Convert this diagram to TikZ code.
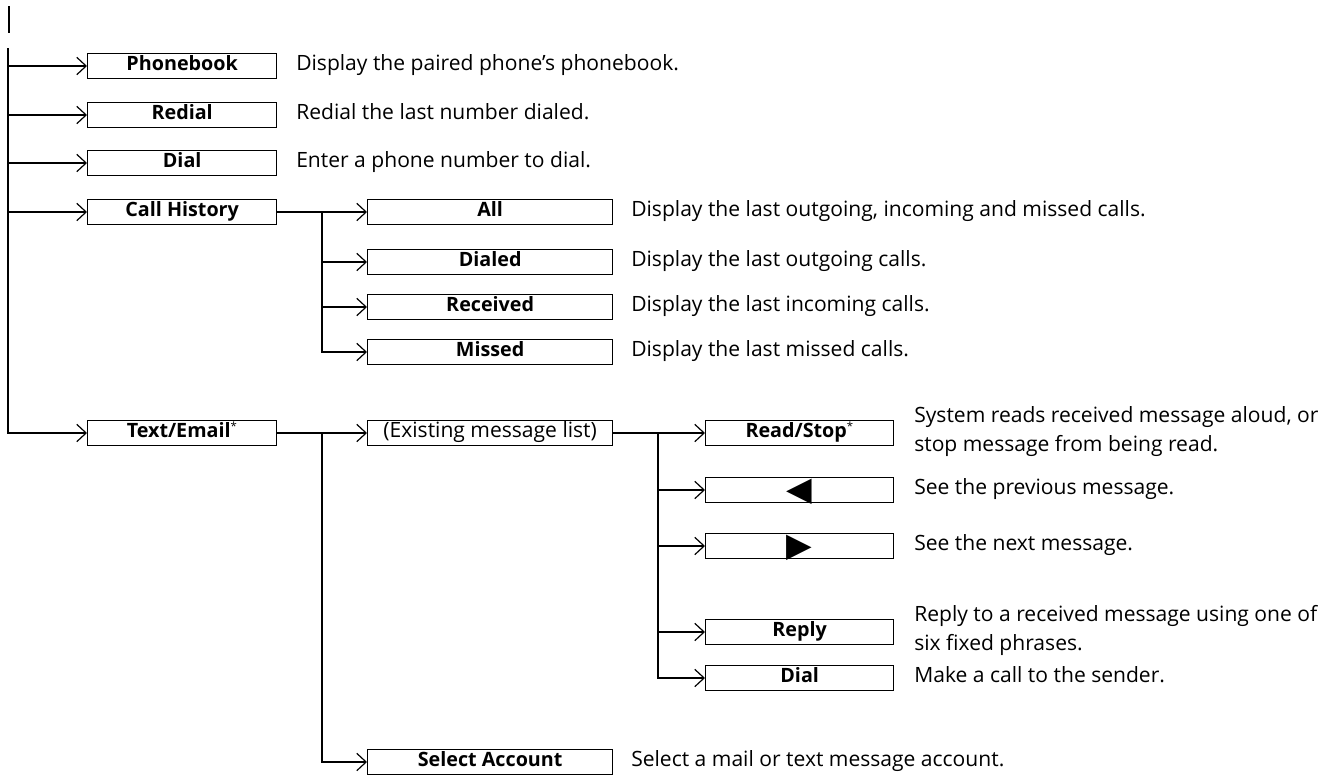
\documentclass[tikz,border=0pt]{standalone}
\usepackage{fontspec}
\setmainfont{Open Sans}
\newfontfamily\symfont{DejaVu Sans}
\usetikzlibrary{arrows.meta}
\begin{document}
\begin{tikzpicture}[x=0.75pt,y=-0.75pt,
  box/.style={draw,line width=1pt,minimum height=18.75pt,inner sep=0pt,anchor=west,
    font=\fontsize{14.8}{16}\selectfont\bfseries,text height=1.55ex,text depth=0.35ex},
  boxa/.style={box,minimum width=141.75pt},
  boxb/.style={box,minimum width=183.75pt},
  boxc/.style={box,minimum width=141pt},
  tri/.style={boxc,font=\symfont\fontsize{25}{25}\selectfont,text height=16pt,text depth=0pt},
  desc/.style={anchor=west,inner sep=0pt,align=left,font=\fontsize{15.8}{21.75}\selectfont,
    text height=1.55ex,text depth=0.35ex},
  line/.style={line width=1.5pt},
  conn/.style={line width=1.5pt,-{Straight Barb[length=7pt,width=13pt,line width=0.9pt]}},
]
\newcommand\mystar{\textsuperscript{\normalfont\fontsize{8.5}{9}\selectfont *}}
\useasboundingbox (0,0) rectangle (1340,776);
% top marker bar
\coordinate (bar1) at (9,6);
\coordinate (bar2) at (9,33);
\draw[line] (bar1) -- (bar2);
\coordinate (t0) at (8,48);

% column 1
\node[boxa] (pb) at (87,66) {Phonebook};
\node[boxa] (rd) at (87,115) {Redial};
\node[boxa] (dl) at (87,163) {Dial};
\node[boxa] (ch) at (87,212) {Call History};
\node[boxa] (te) at (87,433) {Text/Email\mystar};

\node[desc] (pbd) at (296,66) {Display the paired phone’s phonebook.};
\node[desc] (rdd) at (296,115) {Redial the last number dialed.};
\node[desc] (dld) at (296,163) {Enter a phone number to dial.};

\draw[conn] (t0) |- (te.west);
\draw[conn] (t0 |- pb.west) -- (pb.west);
\draw[conn] (t0 |- rd.west) -- (rd.west);
\draw[conn] (t0 |- dl.west) -- (dl.west);
\draw[conn] (t0 |- ch.west) -- (ch.west);

% column 2 (call history)
\node[boxb] (all) at (367,212) {All};
\node[boxb] (dia) at (367,262) {Dialed};
\node[boxb] (rec) at (367,307) {Received};
\node[boxb] (mis) at (367,352) {Missed};
\node[desc] (alld) at (631,212) {Display the last outgoing, incoming and missed calls.};
\node[desc] (diad) at (631,262) {Display the last outgoing calls.};
\node[desc] (recd) at (631,307) {Display the last incoming calls.};
\node[desc] (misd) at (631,352) {Display the last missed calls.};

\coordinate (v2) at (322,212);
\draw[conn] (ch.east) -- (all.west);
\draw[conn] (v2) |- (mis.west);
\draw[conn] (v2 |- dia.west) -- (dia.west);
\draw[conn] (v2 |- rec.west) -- (rec.west);

% column 2 (text/email)
\node[boxb,font=\fontsize{15.8}{17}\selectfont] (eml) at (367,433) {(Existing message list)};
\node[boxb] (sa) at (367,762) {Select Account};
\node[desc] (sad) at (631,762) {Select a mail or text message account.};
\coordinate (v3) at (322,433);
\draw[conn] (te.east) -- (eml.west);
\draw[conn] (v3) |- (sa.west);

% column 3
\node[boxc] (rs) at (705,433) {Read/Stop\mystar};
\node[tri] (prv) at (705,490) {◀};
\node[tri] (nxt) at (705,546) {▶};
\node[boxc] (rp) at (705,632) {Reply};
\node[boxc] (d2) at (705,678) {Dial};

\node[desc] (rsd) at (914,447.5) {System reads received message aloud, or\\stop message from being read.};
\node[desc] (prvd) at (914,490) {See the previous message.};
\node[desc] (nxtd) at (914,546) {See the next message.};
\node[desc] (rpd) at (914,646.5) {Reply to a received message using one of\\six fixed phrases.};
\node[desc] (d2d) at (914,678) {Make a call to the sender.};

\coordinate (v4) at (658,433);
\draw[conn] (eml.east) -- (rs.west);
\draw[conn] (v4) |- (d2.west);
\draw[conn] (v4 |- prv.west) -- (prv.west);
\draw[conn] (v4 |- nxt.west) -- (nxt.west);
\draw[conn] (v4 |- rp.west) -- (rp.west);
\end{tikzpicture}
\end{document}
